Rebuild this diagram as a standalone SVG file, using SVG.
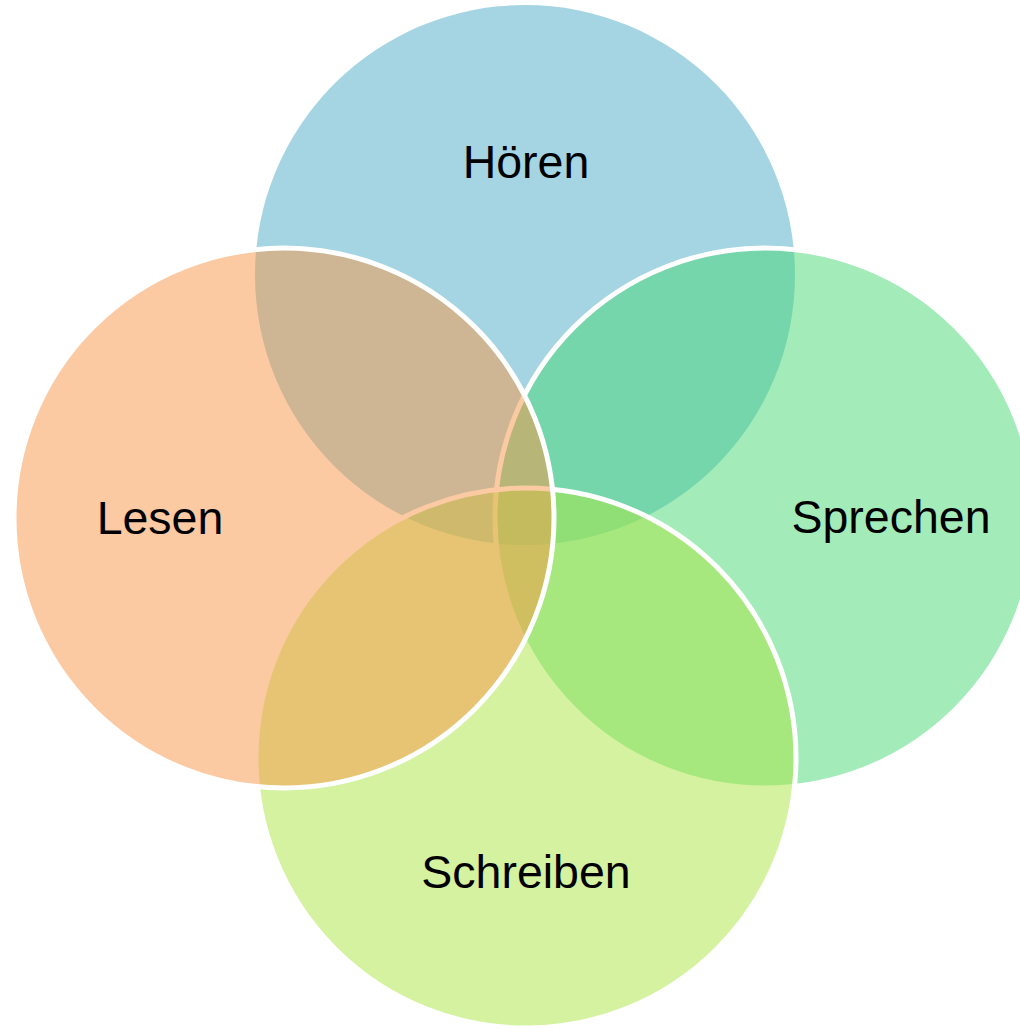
<svg xmlns="http://www.w3.org/2000/svg" width="1020" height="1028" viewBox="0 0 1020 1028">
  <style>
    .c { stroke: #ffffff; stroke-width: 5; }
    .lbl { font-family: "Liberation Sans", Arial, sans-serif; font-size: 46.5px; fill: #000000; text-anchor: middle; }
  </style>
  <rect x="0" y="0" width="1020" height="1028" fill="#ffffff"/>
  <g id="node-hoeren">
    <circle cx="525" cy="275" r="270" fill="#4bacc6" fill-opacity="0.5"/>
    <text class="lbl" x="526" y="178">Hören</text>
  </g>
  <g id="node-sprechen">
    <circle class="c" cx="765" cy="518" r="270" fill="#47d773" fill-opacity="0.5"/>
    <text class="lbl" x="891" y="533">Sprechen</text>
  </g>
  <g id="node-schreiben">
    <circle class="c" cx="526" cy="758" r="270" fill="#a9e541" fill-opacity="0.5"/>
    <text class="lbl" x="526" y="888">Schreiben</text>
  </g>
  <g id="node-lesen">
    <circle class="c" cx="284" cy="518" r="270" fill="#f79646" fill-opacity="0.5"/>
    <text class="lbl" x="160" y="534">Lesen</text>
  </g>
  <g id="connectors"></g>
</svg>
